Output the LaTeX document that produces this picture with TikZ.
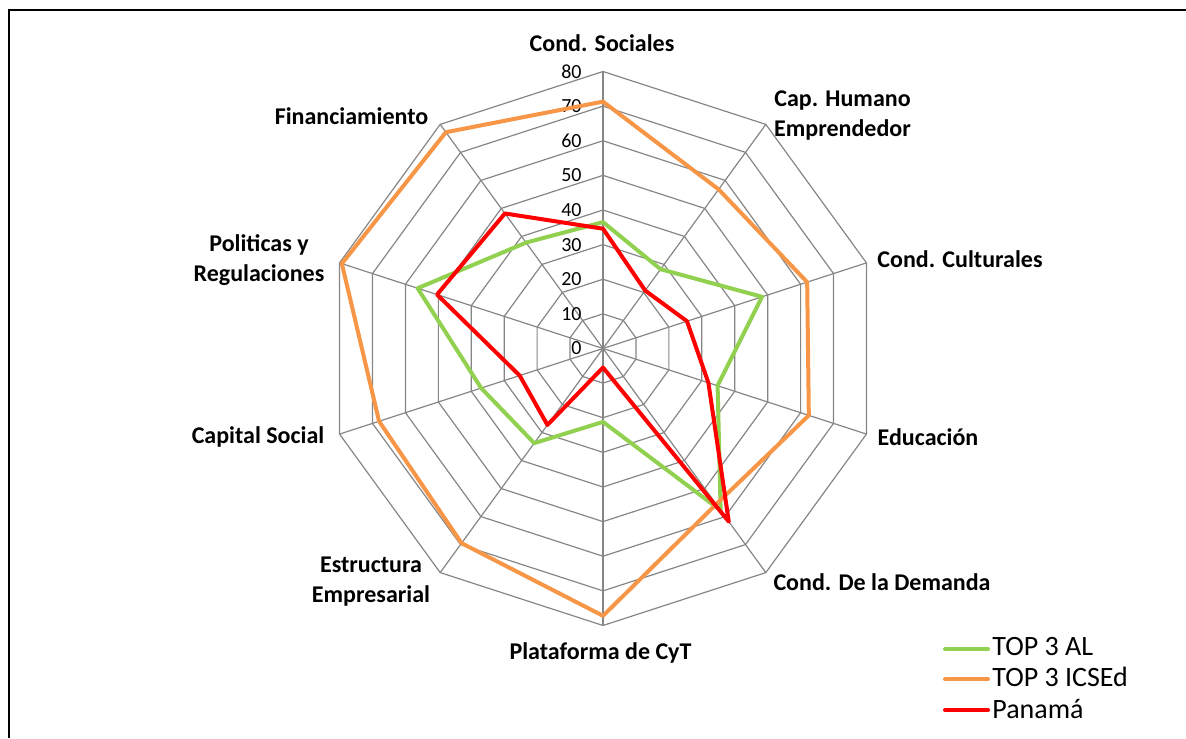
\documentclass[tikz,border=0pt]{standalone}
\usepackage{fontspec}
\setmainfont{Carlito}
\definecolor{gridgray}{HTML}{868686}
\definecolor{alverde}{HTML}{92D050}
\definecolor{icsed}{HTML}{F79646}
\definecolor{panama}{HTML}{FF0000}

\begin{document}
\begin{tikzpicture}[x=0.5pt,y=0.5pt,
	gridline/.style={draw=gridgray, line width=0.6pt},
	serie/.style={line width=2pt, line join=round},
	axislabel/.style={font=\bfseries\fontsize{12}{15}\selectfont, align=center},
	ticklabel/.style={font=\fontsize{10}{12}\selectfont, anchor=east, inner sep=0pt},
	legendtext/.style={font=\fontsize{14}{17}\selectfont, anchor=base west, inner sep=0pt}]
	\useasboundingbox (0,0) rectangle (1186,738);
	\draw[line width=1pt] (8.5,0) -- (8.5,728) -- (1186,728);
	
	\begin{scope}[shift={(603,389.5)}]
	% rings and spokes
	\foreach \r in {1,...,8}
		\draw[gridline] (90:\r*34.625) \foreach \a in {54,18,...,-234} { -- (\a:\r*34.625) } -- cycle;
	\coordinate (0) at (0,0);
	\foreach \a [count=\i] in {90,54,...,-234} {
		\coordinate (s\i) at (\a:277);
		\path[gridline] (0) edge (s\i);
	}
	\foreach \v in {0,10,...,80}
		\node[ticklabel] (t\v) at (-21,\v*3.4625) {\v};
	
	% data
	\foreach \v [count=\i] in {36.5,28.3,48.3,34.8,57.8,21.2,33.8,37,56.3,37.8}
		\coordinate (g\i) at ({126-36*\i}:\v*3.4625);
	\foreach \v [count=\i] in {71.3,56.8,62,62.5,55.6,77.2,69.5,68,79.3,77.2}
		\coordinate (o\i) at ({126-36*\i}:\v*3.4625);
	\foreach \v [count=\i] in {34.6,20.7,25.5,32,61.8,5.5,27.3,25.3,50.4,48.2}
		\coordinate (r\i) at ({126-36*\i}:\v*3.4625);
	
	\draw[serie, draw=alverde] (g1) -- (g2) -- (g3) -- (g4) -- (g5) -- (g6) -- (g7) -- (g8) -- (g9) -- (g10) -- cycle;
	\draw[serie, draw=icsed] (o1) -- (o2) -- (o3) -- (o4) -- (o5) -- (o6) -- (o7) -- (o8) -- (o9) -- (o10) -- cycle;
	\draw[serie, draw=panama] (r1) -- (r2) -- (r3) -- (r4) -- (r5) -- (r6) -- (r7) -- (r8) -- (r9) -- (r10) -- cycle;
	\end{scope}
	
	% axis names
	\node[axislabel] (sociales) at (602,695) {Cond. Sociales};
	\node[axislabel] (capital) at (842.5,622) {Cap. Humano\\Emprendedor};
	\node[axislabel] (culturales) at (960,479) {Cond. Culturales};
	\node[axislabel] (educacion) at (928,301) {Educación};
	\node[axislabel] (demanda) at (882,156) {Cond. De la Demanda};
	\node[axislabel] (cyt) at (600.5,84.7) {Plataforma de CyT};
	\node[axislabel] (estructura) at (371,156.3) {Estructura\\Empresarial};
	\node[axislabel] (social) at (258,300.7) {Capital Social};
	\node[axislabel] (politicas) at (259,478) {Politicas y\\Regulaciones};
	\node[axislabel] (financ) at (351.5,622.3) {Financiamiento};
	
	% legend
	\coordinate (k1) at (945,88.7);
	\coordinate (k2) at (945,58.7);
	\coordinate (k3) at (945,28);
	\coordinate (m1) at (988,88.7);
	\coordinate (m2) at (988,58.7);
	\coordinate (m3) at (988,28);
	\draw[serie, draw=alverde, line cap=round] (k1) -- (m1);
	\draw[serie, draw=icsed, line cap=round] (k2) -- (m2);
	\draw[serie, draw=panama, line cap=round] (k3) -- (m3);
	\node[legendtext] (l1) at (992,83) {TOP 3 AL};
	\node[legendtext] (l2) at (992,51.5) {TOP 3 ICSEd};
	\node[legendtext] (l3) at (992,20) {Panamá};
\end{tikzpicture}
\end{document}
